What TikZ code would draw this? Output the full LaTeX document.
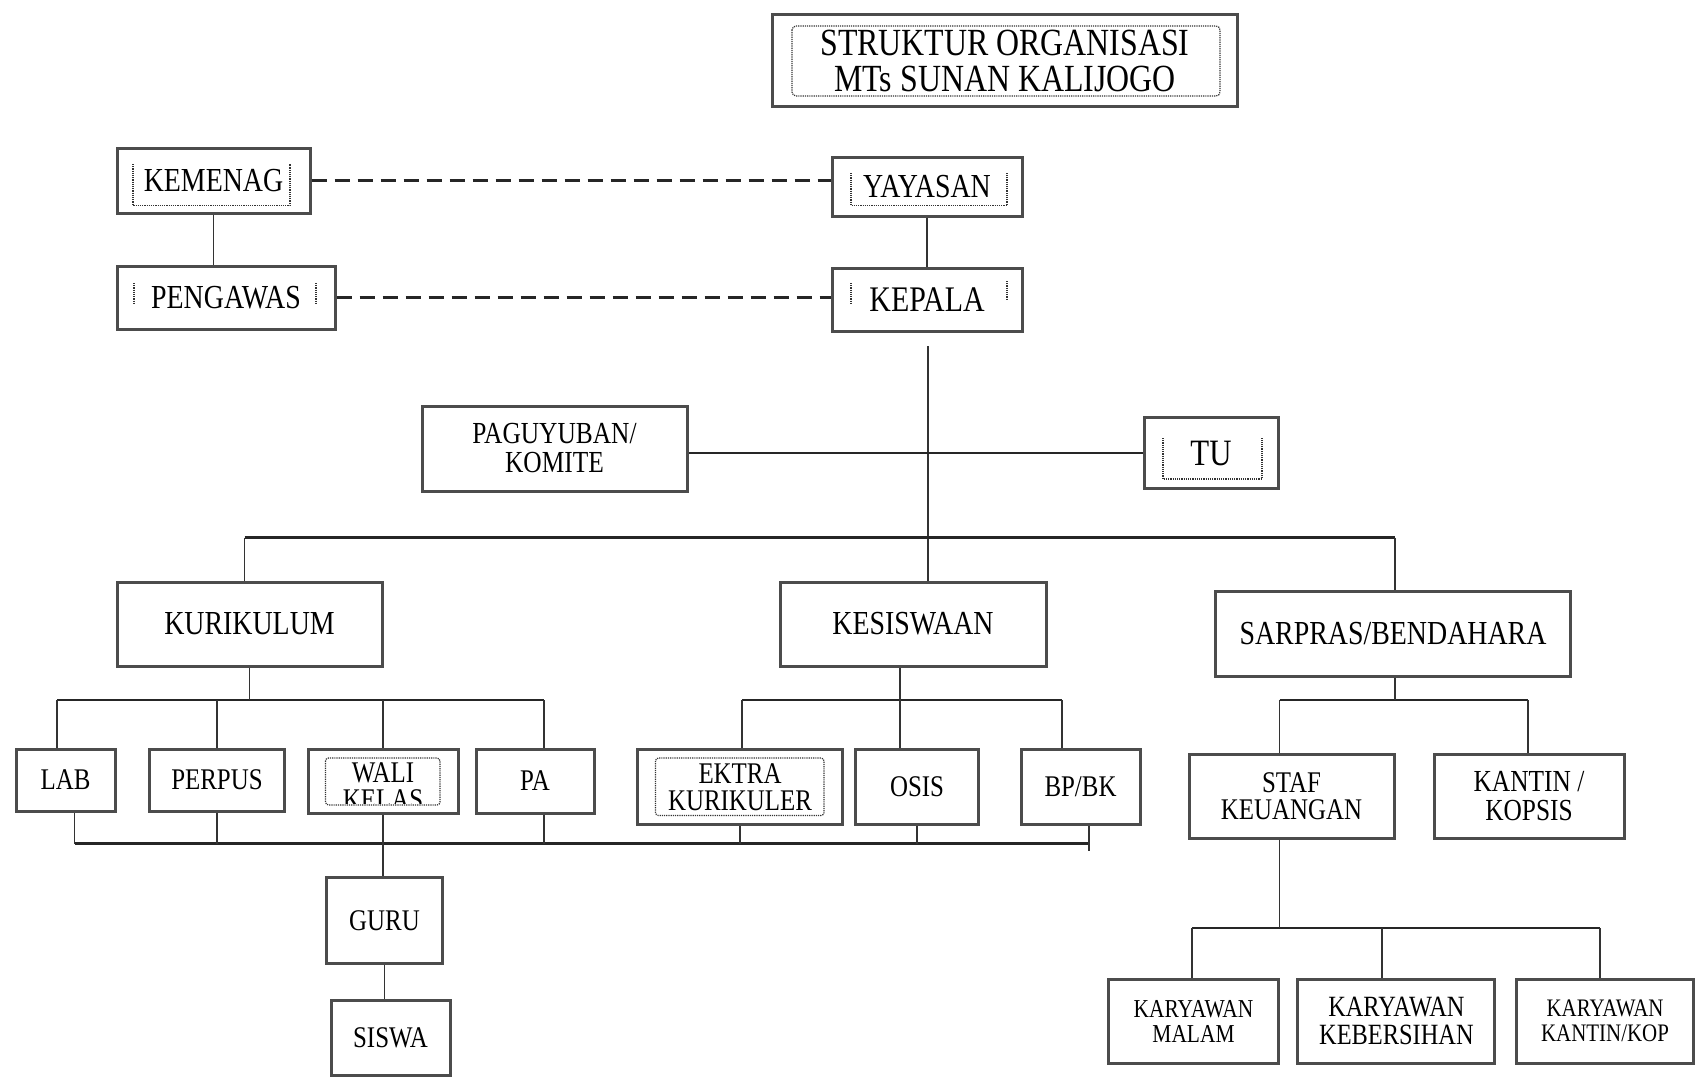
\documentclass[tikz,border=0pt]{standalone}
\usepackage{fontspec}
\setmainfont{Liberation Serif}[FakeStretch=0.83]
\begin{document}
\begin{tikzpicture}[x=1pt,y=-1pt]
\tikzstyle{unit}=[draw=black!70, line width=3pt, fill=white, inner sep=0pt, align=center, font=\fontsize{33.6}{30}\selectfont]
\tikzstyle{small}=[unit, font=\fontsize{30}{28}\selectfont]
\tikzstyle{staff}=[unit, font=\fontsize{25.8}{25}\selectfont]
\tikzstyle{frame}=[black!80, densely dotted, line width=1.2pt]
\tikzstyle{bus}=[black!85, line width=2.5pt]
\tikzstyle{link}=[black!80, line width=1.2pt]
\tikzstyle{tie}=[black!85, line width=2.5pt, dash pattern=on 15pt off 8pt]

\useasboundingbox (0,0) rectangle (1696,1081);

\draw (1005,60.5) node[unit, minimum width=465pt, minimum height=91pt, font=\fontsize{38.4}{36}\selectfont] (title) {STRUKTUR ORGANISASI\\MTs SUNAN KALIJOGO};
\draw[frame, rounded corners=4pt] (792,26) rectangle (1220,96);

\draw (213.5,180.5) node[unit, minimum width=193pt, minimum height=65pt] (kemenag) {KEMENAG};
\draw (927,186.5) node[unit, minimum width=190pt, minimum height=59pt] (yayasan) {YAYASAN};
\draw (226,297.5) node[unit, minimum width=218pt, minimum height=63pt] (pengawas) {PENGAWAS};
\draw (927,299.5) node[unit, minimum width=190pt, minimum height=63pt, font=\fontsize{36}{32}\selectfont] (kepala) {KEPALA};
\draw[frame] (133,164) -- (133,205.5) -- (290,205.5) -- (290,164);
\draw[frame] (851,173) -- (851,205.5) -- (1007,205.5) -- (1007,173);
\draw[frame] (134,283) -- (134,303) (316,283) -- (316,303);
\draw[frame] (851,283) -- (851,305) (1007,281) -- (1007,300);

\draw[tie] (kemenag.east) -- (kemenag.east -| yayasan.west);
\draw[tie] (pengawas.east) -- (pengawas.east -| kepala.west);
\draw[link] (kemenag.south) -- (kemenag.south |- pengawas.north);
\draw[link] (yayasan) -- (kepala);

\draw (554.5,448.5) node[small, minimum width=265pt, minimum height=85pt, font=\fontsize{30.6}{29}\selectfont] (paguyuban) {PAGUYUBAN/\\KOMITE};
\draw (1211,453) node[unit, minimum width=134pt, minimum height=71.5pt, font=\fontsize{37.2}{33}\selectfont] (tu) {TU};
\draw[frame] (1163,438) -- (1163,479) -- (1262,479) -- (1262,438);

\draw (249.5,624) node[unit, minimum width=265pt, minimum height=84pt] (kurikulum) {KURIKULUM};
\draw (913,624) node[unit, minimum width=266pt, minimum height=84pt] (kesiswaan) {KESISWAAN};
\draw (1393,634) node[unit, minimum width=355pt, minimum height=85.5pt] (sarpras) {SARPRAS/BENDAHARA};

\coordinate (top) at (928,346);
\coordinate (busL) at (244.5,537.5);
\coordinate (busR) at (1395,537.5);
\draw[link] (top) -- (top |- kesiswaan.north);
\draw[bus] (tu.west) -- (tu.west -| paguyuban.east);
\draw[bus] (busL) -- (busR);
\draw[link] (busL) -- (busL |- kurikulum.north);
\draw[link] (busR) -- (busR |- sarpras.north);

\draw (65.5,780) node[small, minimum width=99pt, minimum height=62pt] (lab) {LAB};
\draw (217,780) node[small, minimum width=135pt, minimum height=62pt] (perpus) {PERPUS};
\draw (383,781) node[small, minimum width=150pt, minimum height=64pt] (wali) {};
\begin{scope}
\clip (325.5,758) rectangle (440,803);
\draw (383,786.5) node[align=center, font=\fontsize{30}{27}\selectfont] (walitext) {WALI\\KELAS};
\end{scope}
\draw[frame, rounded corners=3pt] (325.5,758) rectangle (440,805);
\draw (535,781) node[small, minimum width=118pt, minimum height=64pt] (pa) {PA};

\draw (740,787) node[small, minimum width=205pt, minimum height=75pt, font=\fontsize{30}{27}\selectfont] (ektra) {EKTRA\\KURIKULER};
\draw[frame, rounded corners=3pt] (655.5,758) rectangle (824,815.5);
\draw (917,787) node[small, minimum width=123pt, minimum height=75pt] (osis) {OSIS};
\draw (1080.5,787) node[small, minimum width=119pt, minimum height=75pt] (bpbk) {BP/BK};

\coordinate (kurL) at (57,700);
\coordinate (kurR) at (544,700);
\draw[bus] (kurL) -- (kurR);
\draw[link] (kurikulum.south) -- (kurikulum.south |- kurL);
\draw[link] (kurL) -- (kurL |- lab.north);
\draw[link] (perpus.north) -- (perpus.north |- kurL);
\draw[link] (wali.north) -- (wali.north |- kurL);
\draw[link] (kurR) -- (kurR |- pa.north);

\coordinate (kesL) at (742,700);
\coordinate (kesM) at (900,700);
\coordinate (kesR) at (1062,700);
\draw[bus] (kesL) -- (kesR);
\draw[link] (kesM |- kesiswaan.south) -- (kesM |- osis.north);
\draw[link] (kesL) -- (kesL |- ektra.north);
\draw[link] (kesR) -- (kesR |- bpbk.north);

\coordinate (baseL) at (74.6,843.6);
\coordinate (baseR) at (1089,843.6);
\coordinate (baseEnd) at (1089,851);
\draw[bus] (baseL) -- (baseR);
\draw[link] (baseL) -- (baseL |- lab.south);
\draw[link] (perpus.south) -- (perpus.south |- baseL);
\draw[link] (kurR |- pa.south) -- (kurR |- baseL);
\draw[link] (ektra.south) -- (ektra.south |- baseL);
\draw[link] (osis.south) -- (osis.south |- baseL);
\draw[link] (baseR |- bpbk.south) -- (baseEnd);

\draw (384.5,920.5) node[small, minimum width=116pt, minimum height=86.5pt] (guru) {GURU};
\draw (390.5,1038) node[small, minimum width=119pt, minimum height=75.5pt] (siswa) {SISWA};
\draw[link] (wali.south) -- (wali.south |- guru.north);
\draw[link] (guru.south) -- (guru.south |- siswa.north);

\draw (1291.5,796) node[small, minimum width=205pt, minimum height=84pt, font=\fontsize{30}{27}\selectfont] (staf) {STAF\\KEUANGAN};
\draw (1529,796) node[small, minimum width=190pt, minimum height=84pt, font=\fontsize{30.6}{29}\selectfont] (kantin) {KANTIN /\\KOPSIS};

\coordinate (sarL) at (1279.5,700);
\coordinate (sarR) at (1528,700);
\draw[bus] (sarL) -- (sarR);
\draw[link] (busR |- sarpras.south) -- (busR |- sarL);
\draw[link] (sarL) -- (sarL |- staf.north);
\draw[link] (sarR) -- (sarR |- kantin.north);

\draw (1193.5,1021) node[staff, minimum width=170pt, minimum height=84pt] (malam) {KARYAWAN\\MALAM};
\draw (1396.4,1021) node[small, minimum width=197pt, minimum height=84pt, font=\fontsize{29.4}{28}\selectfont] (bersih) {KARYAWAN\\KEBERSIHAN};
\draw (1605,1021) node[staff, minimum width=177pt, minimum height=84pt, font=\fontsize{25.2}{25}\selectfont] (kop) {KARYAWAN\\KANTIN/KOP};

\coordinate (karL) at (1192,928);
\coordinate (karM) at (1382,928);
\coordinate (karR) at (1600,928);
\draw[bus] (karL) -- (karR);
\draw[link] (sarL |- staf.south) -- (sarL |- karL);
\draw[link] (karL) -- (karL |- malam.north);
\draw[link] (karM) -- (karM |- bersih.north);
\draw[link] (karR) -- (karR |- kop.north);
\end{tikzpicture}
\end{document}
